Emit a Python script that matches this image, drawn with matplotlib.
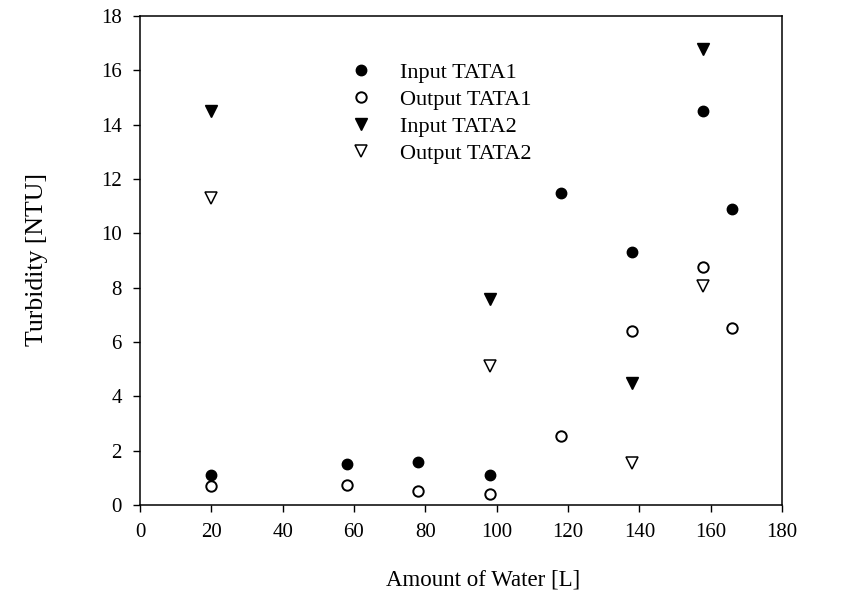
import matplotlib
matplotlib.use('Agg')
import matplotlib.pyplot as plt

plt.rcParams['font.family'] = ['Liberation Serif', 'DejaVu Serif']

# ---------------- data ----------------
x_in1 = [20, 58, 78, 98, 118, 138, 158, 166]
y_in1 = [1.1, 1.5, 1.6, 1.1, 11.5, 9.3, 14.5, 10.9]

x_out1 = [20, 58, 78, 98, 118, 138, 158, 166]
y_out1 = [0.7, 0.75, 0.5, 0.4, 2.55, 6.4, 8.75, 6.5]

x_in2 = [20, 98, 138, 158]
y_in2 = [14.5, 7.6, 4.5, 16.8]

x_out2 = [20, 98, 138, 158]
y_out2 = [11.3, 5.1, 1.55, 8.05]

labels = ['Input TATA1', 'Output TATA1', 'Input TATA2', 'Output TATA2']

# ---------------- plot ----------------
fig = plt.figure(figsize=(8.63, 5.9), dpi=100)
ax = fig.add_axes([0.1622, 0.144, 0.7439, 0.8289])

ms = 7.5
ax.plot(x_in1, y_in1, 'o', color='black', ms=ms, mec='black', label=labels[0])
ax.plot(x_out1, y_out1, 'o', mfc='white', mec='black', mew=1.4, ms=ms, label=labels[1])
ax.plot(x_in2, y_in2, 'v', color='black', ms=ms + 1, label=labels[2])
ax.plot(x_out2, y_out2, 'v', mfc='white', mec='black', mew=1.1, ms=ms + 1, label=labels[3])

ax.set_xlim(0, 180)
ax.set_ylim(0, 18)
ax.set_xticks(range(0, 181, 20))
ax.set_yticks(range(0, 19, 2))
ax.tick_params(direction='out', length=5, width=1, pad=8, labelsize=15,
               top=False, right=False)
for s in ax.spines.values():
    s.set_linewidth(1.1)

ax.set_xlabel('Amount of Water [L]', fontsize=16.5, labelpad=20)
ax.xaxis.label.set_x(0.534)
ax.set_ylabel('Turbidity [NTU]', fontsize=18.5, labelpad=38)
ax.yaxis.label.set_y(0.502)

ax.legend(loc='upper left', bbox_to_anchor=(0.296, 0.924), frameon=False,
          fontsize=16, handletextpad=0.75, labelspacing=0.29, borderaxespad=0)

fig.savefig('out.png', dpi=100)
